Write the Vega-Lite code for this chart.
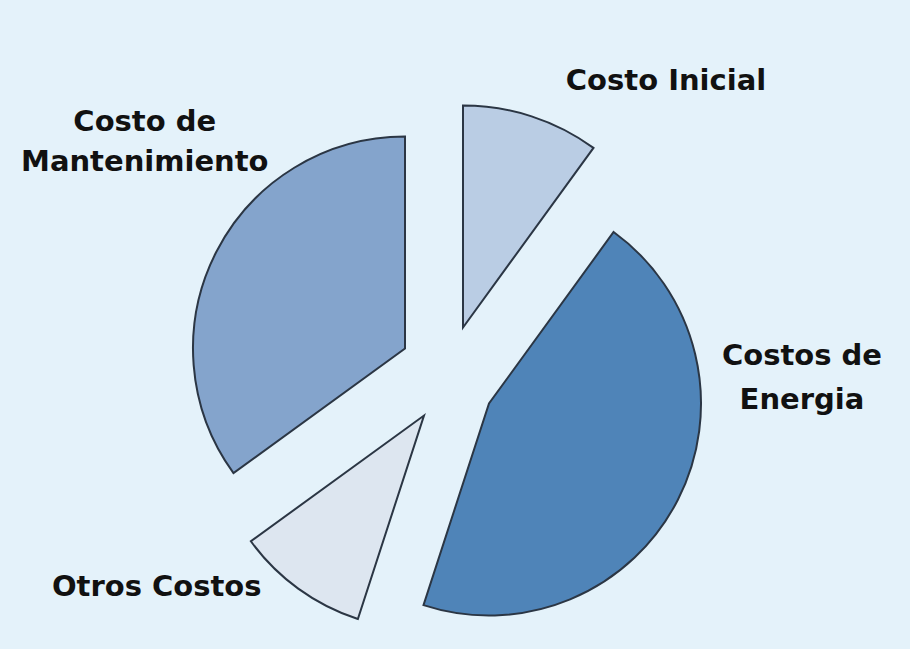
{
  "$schema": "https://vega.github.io/schema/vega-lite/v6.json",
  "width": 888,
  "height": 523,
  "autosize": {"type": "none"},
  "padding": {"left": 0, "top": 126, "right": 22, "bottom": 0},
  "background": "#e4f2fa",
  "config": {"view": {"stroke": null}},
  "data": {
    "values": [
      {"cat": "Costo Inicial", "label": "Costo Inicial", "value": 10, "order": 1},
      {"cat": "Costos de Energia", "label": "Costos de|Energia", "value": 45, "order": 2},
      {"cat": "Otros Costos", "label": "Otros Costos", "value": 10, "order": 3},
      {"cat": "Costo de Mantenimiento", "label": "Costo de|Mantenimiento", "value": 35, "order": 4}
    ]
  },
  "transform": [
    {"stack": "value", "groupby": [], "sort": [{"field": "order", "order": "ascending"}], "as": ["v0", "v1"]}
  ],
  "encoding": {
    "theta": {"field": "v0", "type": "quantitative", "scale": {"domain": [0, 100], "range": [0, 6.283185307179586]}}
  },
  "layer": [
    {
      "transform": [{"filter": "datum.cat === 'Costo Inicial'"}],
      "mark": {"type": "arc", "radius": 222, "xOffset": 19, "yOffset": -60, "stroke": "#2b3644", "strokeWidth": 2},
      "encoding": {
        "theta2": {"field": "v1"},
        "color": {"field": "cat", "type": "nominal", "legend": null,
          "scale": {"domain": ["Costo Inicial", "Costos de Energia", "Otros Costos", "Costo de Mantenimiento"], "range": ["#bacde4", "#4f84b8", "#dde6f0", "#84a4cc"]}}
      }
    },
    {
      "transform": [{"filter": "datum.cat === 'Costos de Energia'"}],
      "mark": {"type": "arc", "radius": 212, "xOffset": 45, "yOffset": 16, "stroke": "#2b3644", "strokeWidth": 2},
      "encoding": {
        "theta2": {"field": "v1"},
        "color": {"field": "cat", "type": "nominal", "legend": null}
      }
    },
    {
      "transform": [{"filter": "datum.cat === 'Otros Costos'"}],
      "mark": {"type": "arc", "radius": 214, "xOffset": -20, "yOffset": 28, "stroke": "#2b3644", "strokeWidth": 2},
      "encoding": {
        "theta2": {"field": "v1"},
        "color": {"field": "cat", "type": "nominal", "legend": null}
      }
    },
    {
      "transform": [{"filter": "datum.cat === 'Costo de Mantenimiento'"}],
      "mark": {"type": "arc", "radius": 212, "xOffset": -39, "yOffset": -39, "stroke": "#2b3644", "strokeWidth": 2},
      "encoding": {
        "theta2": {"field": "v1"},
        "color": {"field": "cat", "type": "nominal", "legend": null}
      }
    },
    {
      "transform": [{"filter": "datum.cat === 'Costo Inicial'"}],
      "mark": {"type": "text", "radius": 250, "dx": 222, "dy": -57, "font": "DejaVu Sans", "fontWeight": "bold", "fontSize": 29, "color": "#111111", "align": "center", "baseline": "middle", "lineBreak": "|", "lineHeight": 42},
      "encoding": {"text": {"field": "label"}}
    },
    {
      "transform": [{"filter": "datum.cat === 'Costos de Energia'"}],
      "mark": {"type": "text", "radius": 250, "dx": 211, "dy": 171, "font": "DejaVu Sans", "fontWeight": "bold", "fontSize": 29, "color": "#111111", "align": "center", "baseline": "middle", "lineBreak": "|", "lineHeight": 44},
      "encoding": {"text": {"field": "label"}}
    },
    {
      "transform": [{"filter": "datum.cat === 'Otros Costos'"}],
      "mark": {"type": "text", "radius": 250, "dx": -210, "dy": -38, "font": "DejaVu Sans", "fontWeight": "bold", "fontSize": 29, "color": "#111111", "align": "center", "baseline": "middle", "lineBreak": "|", "lineHeight": 42},
      "encoding": {"text": {"field": "label"}}
    },
    {
      "transform": [{"filter": "datum.cat === 'Costo de Mantenimiento'"}],
      "mark": {"type": "text", "radius": 250, "dx": -97, "dy": -412, "font": "DejaVu Sans", "fontWeight": "bold", "fontSize": 29, "color": "#111111", "align": "center", "baseline": "middle", "lineBreak": "|", "lineHeight": 40},
      "encoding": {"text": {"field": "label"}}
    }
  ]
}
